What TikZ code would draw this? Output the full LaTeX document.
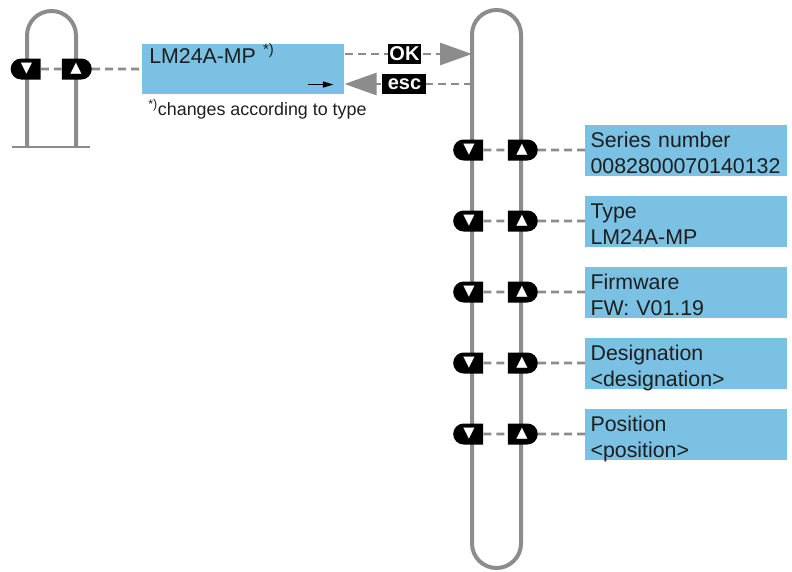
\documentclass[tikz,border=0pt]{standalone}
\usepackage{fontspec}
\setmainfont{Liberation Sans}
\newfontfamily\keyfont{DejaVu Sans}
\usetikzlibrary{arrows.meta,shapes.misc,positioning}

\definecolor{loopgray}{HTML}{8C8C8C}
\definecolor{infoblue}{HTML}{7BC1E3}
\definecolor{inktext}{HTML}{1E1E1E}

\tikzset{
  loopline/.style={draw=loopgray, line width=3pt},
  dashline/.style={draw=loopgray, line width=2.1pt, dash pattern=on 6pt off 3.75pt},
  infobox/.style={fill=infoblue, text=inktext, anchor=north west, align=left,
    text width=143.5pt, inner xsep=4pt, inner ysep=0pt,
    text height=16.5pt, text depth=21.75pt, font=\fontsize{16}{19.5}\selectfont},
  keybase/.style={rounded rectangle, fill=black, text=white, inner sep=0pt,
    minimum width=22.5pt, minimum height=15.75pt, font=\keyfont\fontsize{11}{11}\selectfont},
  downkey/.style={keybase, rounded rectangle east arc=none},
  upkey/.style={keybase, rounded rectangle west arc=none},
  tag/.style={fill=black, text=white, inner ysep=0pt, minimum height=15.5pt,
    font=\bfseries\fontsize{15}{15}\selectfont},
  bigtip/.style={-{Triangle[length=24pt,width=16.5pt]}}
}

\begin{document}
\begin{tikzpicture}[x=0.75pt, y=-0.75pt]
  \useasboundingbox (0,0) rectangle (792,571);

  % loops
  \draw[loopline, rounded corners=18.375pt] (27,147) -- (27,11) -- (76,11) -- (76,147);
  \draw[draw=loopgray, line width=1.2pt] (12,147) -- (90,147);
  \draw[loopline, rounded corners=18.375pt] (472,10) rectangle (521,568);

  % display
  \node[infobox, text width=141pt, inner xsep=5.25pt, text height=14.25pt, text depth=23.25pt] (display) at (142,44) {LM24A-MP \textsuperscript{*)}};
  \node[anchor=base west, inner sep=0pt, text=inktext, font=\fontsize{13.4}{16}\selectfont] (note) at ([shift={(6,21)}]display.south west) {\textsuperscript{*)}changes according to type};
  \draw[black, line width=1.1pt, -{Triangle[length=8pt,width=4.5pt]}] ([shift={(-37,-10)}]display.south east) -- ([shift={(-11,-10)}]display.south east);

  \node[downkey] (ldown) at (26.5,69) {▼};
  \node[upkey] (lup) at (76,69) {▲};
  \draw[dashline] (ldown) -- (lup);
  \draw[dashline] (lup) -- (display);

  \coordinate (okin) at (472,54);
  \coordinate (escout) at (472,84);
  \draw[dashline, bigtip] (display.east |- okin) -- node[tag, pos=0.47, inner xsep=1pt] (ok) {OK} (okin);
  \draw[dashline, bigtip] (escout) -- node[tag, pos=0.53, inner xsep=4pt] (esc) {esc} (display.east |- escout);

  % menu entries
  \foreach \i/\name/\val in {0/Series number/0082800070140132, 1/Type/LM24A-MP, 2/Firmware/FW: V01.19, 3/Designation/<designation>, 4/Position/<position>}{
    \node[infobox] (info\i) at (585,{125+71*\i}) {\name\\\val};
    \node[downkey] (down\i) at (469,{150+71*\i}) {▼};
    \node[upkey] (up\i) at (522,{150+71*\i}) {▲};
    \draw[dashline] (down\i) -- (up\i);
    \draw[dashline] (up\i) -- (info\i.west |- up\i);
  }
\end{tikzpicture}
\end{document}
